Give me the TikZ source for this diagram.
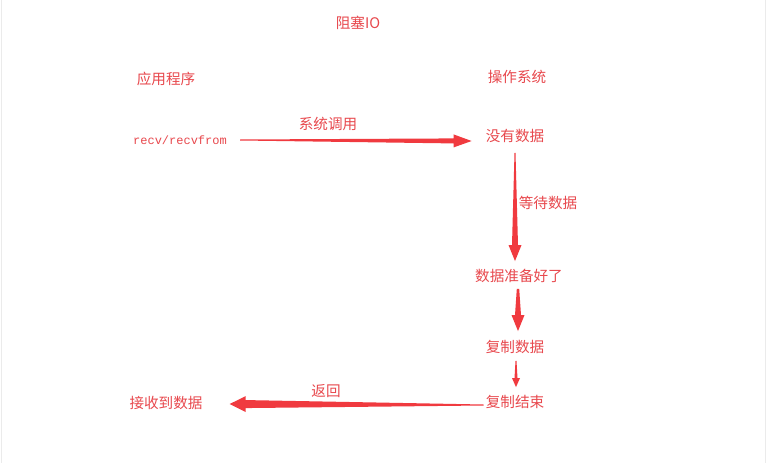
\documentclass[tikz,border=0pt]{standalone}
\usepackage{fontspec}
\usetikzlibrary{calc}
\newfontfamily\cjk{Noto Sans CJK SC}
\newfontfamily\monof{Liberation Mono}
\definecolor{arr}{HTML}{F03A3F}
\definecolor{txt}{HTML}{E8484D}
\newcommand{\tarrow}[6]{%
  \coordinate (ta-s) at (#1);
  \coordinate (ta-e) at (#2);
  \coordinate (ta-h) at ($(ta-e)!#5!(ta-s)$);
  \fill[arr] ($(ta-s)!#3!90:(ta-e)$) -- ($(ta-h)!#4!90:(ta-e)$) -- ($(ta-h)!#6!90:(ta-e)$)
    -- (ta-e) -- ($(ta-h)!#6!-90:(ta-e)$) -- ($(ta-h)!#4!-90:(ta-e)$) -- ($(ta-s)!#3!-90:(ta-e)$) -- cycle;}
\begin{document}
\begin{tikzpicture}[x=1pt,y=-1pt,
  lbl/.style={inner sep=0pt, text=txt, font=\cjk\fontsize{14.6}{16}\selectfont},
  code/.style={inner sep=0pt, text=txt, font=\monof\fontsize{12}{14}\selectfont}]
\useasboundingbox (0,0) rectangle (768,463);
\fill[white] (0,0) rectangle (768,463);
\draw[black!8, line width=1.5pt] (1.5,0) -- (1.5,463);
\draw[black!8, line width=1.5pt] (765.5,0) -- (765.5,463);

\node[lbl] (title) at (358,23) {阻塞IO};
\node[lbl] (app) at (166,79) {应用程序};
\node[lbl] (os) at (517,77) {操作系统};
\node[code] (recv) at (180,140) {recv/recvfrom};
\node[lbl] (nodata) at (515,136) {没有数据};
\node[lbl] (ready) at (519,276) {数据准备好了};
\node[lbl] (copy) at (515,347) {复制数据};
\node[lbl] (done) at (515,402) {复制结束};
\node[lbl] (recvd) at (166,403) {接收到数据};

\node[lbl] (l1) at (328,124) {系统调用};
\node[lbl] (l2) at (548,203) {等待数据};
\node[lbl] (l3) at (326,391) {返回};

\coordinate (a1s) at ($(recv.east)+(13,0)$);
\coordinate (a1e) at ($(nodata.west |- recv.east)+(-14,1)$);
\tarrow{a1s}{a1e}{0.5pt}{2.5pt}{18pt}{6.5pt}

\coordinate (a2s) at ($(nodata.south)+(0,10)$);
\coordinate (a2e) at ($(ready.north -| nodata.south)+(0,-8)$);
\tarrow{a2s}{a2e}{0.5pt}{3pt}{16pt}{6.5pt}

\coordinate (a3s) at ($(ready.south)+(-1,6)$);
\coordinate (a3e) at ($(copy.north -| a3s)+(0,-9)$);
\tarrow{a3s}{a3e}{1.2pt}{3pt}{16pt}{6.5pt}

\coordinate (a4s) at ($(copy.south)+(1,7)$);
\coordinate (a4e) at ($(done.north -| a4s)+(0,-8)$);
\tarrow{a4s}{a4e}{0.5pt}{1.5pt}{9pt}{4pt}

\coordinate (a5s) at ($(done.west)+(-2,3)$);
\coordinate (a5e) at ($(recvd.east |- done.west)+(27,2)$);
\tarrow{a5s}{a5e}{0.5pt}{4pt}{16pt}{8pt}
\end{tikzpicture}
\end{document}
